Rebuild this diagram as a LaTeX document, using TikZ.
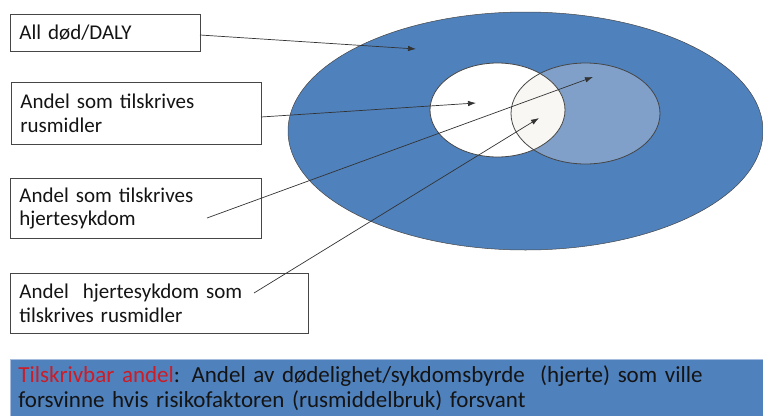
\documentclass[tikz,border=0pt]{standalone}
\usepackage{fontspec}
\setmainfont{Carlito}
\usetikzlibrary{arrows.meta}
\definecolor{bigblue}{RGB}{79,129,189}
\definecolor{lightblue}{RGB}{128,160,201}
\definecolor{overlapc}{RGB}{248,247,243}
\definecolor{edgegray}{RGB}{70,70,70}
\definecolor{redtext}{RGB}{204,28,38}
\definecolor{banneredge}{RGB}{165,188,222}
\definecolor{textc}{RGB}{20,20,20}
\tikzset{
  labelbox/.style={draw=edgegray, line width=0.7pt, fill=white, anchor=north west,
    align=left, inner xsep=9pt, inner ysep=0pt, text=textc},
  pointer/.style={draw=black!80, line width=0.7pt, -{Latex[length=8pt,width=5.5pt]}},
  venn/.style={draw=edgegray, line width=0.8pt}
}
\begin{document}
\begin{tikzpicture}[x=1pt,y=-1pt,font=\fontsize{21}{23.5}\selectfont]
\useasboundingbox (0,0) rectangle (763,415);
% ellipses
\fill[bigblue] (525.5,131) ellipse [x radius=237.5, y radius=119];
\draw[edgegray, line width=0.5pt] (525.5,131) ellipse [x radius=237.5, y radius=119];
\fill[lightblue] (585.5,113.5) ellipse [x radius=74.5, y radius=50.5];
\fill[white] (497.5,110) ellipse [x radius=67.5, y radius=47];
\begin{scope}
  \clip (585.5,113.5) ellipse [x radius=74.5, y radius=50.5];
  \fill[overlapc] (497.5,110) ellipse [x radius=67.5, y radius=47];
\end{scope}
\draw[venn] (585.5,113.5) ellipse [x radius=74.5, y radius=50.5];
\draw[venn] (497.5,110) ellipse [x radius=67.5, y radius=47];
% boxes
\node[labelbox, minimum width=190pt, minimum height=37pt, text width=172pt] (b1) at (10,14) {All død/DALY};
\node[labelbox, minimum width=250pt, minimum height=62pt, text width=232pt] (b2) at (11,82) {Andel som tilskrives\\rusmidler};
\node[labelbox, minimum width=251pt, minimum height=60pt, text width=233pt] (b3) at (10,178) {Andel som tilskrives\\hjertesykdom};
\node[labelbox, minimum width=298pt, minimum height=60pt, text width=280pt] (b4) at (10,273) {Andel\ \ hjertesykdom som\\tilskrives rusmidler};
% banner
\node[fill=bigblue, draw=banneredge, line width=0.7pt, anchor=north west, minimum width=756pt, minimum height=58pt,
  text width=740pt, inner xsep=8pt, inner ysep=0pt, align=left, text=textc,
  font=\fontsize{23}{24.5}\selectfont] (banner) at (10,359)
  {\textcolor{redtext}{Tilskrivbar andel}: Andel av dødelighet/sykdomsbyrde\ \ (hjerte) som ville\\forsvinne hvis risikofaktoren (rusmiddelbruk) forsvant};
% arrow endpoints
\coordinate (s1) at (200,35);
\coordinate (t1) at (416,49);
\coordinate (s2) at (261,117);
\coordinate (t2) at (476,103);
\coordinate (s3) at (207,218);
\coordinate (t3) at (593,77);
\coordinate (s4) at (254,293);
\coordinate (t4) at (539,118);
\draw[pointer] (s1) -- (t1);
\draw[pointer] (s2) -- (t2);
\draw[pointer] (s3) -- (t3);
\draw[pointer] (s4) -- (t4);
\end{tikzpicture}
\end{document}
